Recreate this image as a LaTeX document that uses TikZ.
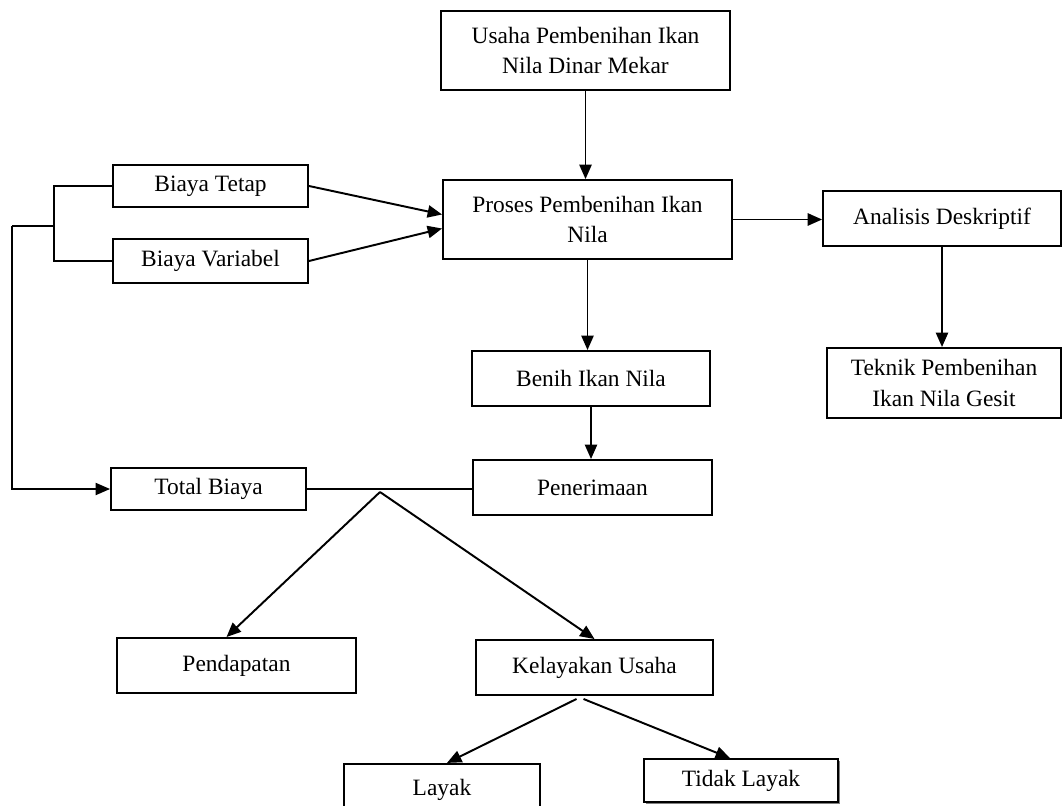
\documentclass[tikz,border=0pt]{standalone}
\usepackage{fontspec}
\setmainfont{Liberation Serif}
\usetikzlibrary{calc}
\usetikzlibrary{arrows.meta}
\usetikzlibrary{shadows}
\tikzset{
  kotak/.style={draw, line width=1pt, fill=white, align=center, inner sep=0pt,
    font=\fontsize{12}{15.4}\selectfont},
  panah/.style={line width=1pt, -{Triangle[length=2.6mm,width=2.2mm]}},
  garis/.style={line width=1pt},
}

\begin{document}
\begin{tikzpicture}[x=0.18mm, y=-0.18mm]
            \clip (0,0) rectangle (1062,805);
            % kotak utama
            \node[kotak, minimum width=52mm, minimum height=14.2mm] (usaha) at (585.5,50.5) {Usaha Pembenihan Ikan\\Nila Dinar Mekar};
            \node[kotak, minimum width=52mm, minimum height=14.2mm] (proses) at (587.5,219.5) {Proses Pembenihan Ikan\\Nila};
            \node[kotak, minimum width=35.1mm, minimum height=7.6mm] (tetap) at (210.5,186) {Biaya Tetap};
            \node[kotak, minimum width=35.1mm, minimum height=7.9mm] (variabel) at (210.5,261) {Biaya Variabel};
            \node[kotak, minimum width=42.8mm, minimum height=9.9mm] (analisis) at (942,218.5) {Analisis Deskriptif};
            \node[kotak, minimum width=42.1mm, minimum height=12.6mm] (teknik) at (944,383) {Teknik Pembenihan\\Ikan Nila Gesit};
            \node[kotak, minimum width=42.8mm, minimum height=9.9mm] (benih) at (591,378.5) {Benih Ikan Nila};
            \node[kotak, minimum width=43mm, minimum height=9.9mm] (terima) at (592.5,487.5) {Penerimaan};
            \node[kotak, minimum width=35.1mm, minimum height=7.6mm] (total) at (208.5,489) {Total Biaya};
            \node[kotak, minimum width=43mm, minimum height=9.9mm] (pendapatan) at (236.5,665.5) {Pendapatan};
            \node[kotak, minimum width=42.7mm, minimum height=9.9mm] (kelayakan) at (594.5,667.5) {Kelayakan Usaha};
            % hasil kelayakan
            \node[kotak, minimum width=35.3mm, minimum height=9.4mm] (layak) at (442,790) {Layak};
            \node[kotak, minimum width=34.9mm, minimum height=7.7mm,
                  drop shadow={shadow xshift=0.4mm, shadow yshift=-0.4mm, fill=gray, opacity=1}] (tidak) at (741,780.5) {Tidak Layak};
            % titik bantu
            \coordinate (brk) at (54,226);
            \coordinate (kiri) at (12,226);
            \coordinate (jn) at (380,492);
            % panah
            \draw[panah] (usaha.south) -- (usaha.south |- proses.north);
            \draw[panah] (tetap.east) -- ($(proses.west)+(0,-5)$);
            \draw[panah] (variabel.east) -- ($(proses.west)+(0,9)$);
            \draw[panah] (proses.east) -- (analisis.west |- proses.east);
            \draw[panah] (analisis.south) -- (analisis.south |- teknik.north);
            \draw[panah] (proses.south) -- (proses.south |- benih.north);
            \draw[panah] (benih.south) -- (benih.south |- terima.north);
            % biaya
            \draw[garis] (tetap.west) -- (tetap.west -| brk) -- (variabel.west -| brk) -- (variabel.west);
            \draw[garis] (brk) -- (kiri);
            \draw[panah, line width=0.7pt] (kiri) |- (total.west);
            \draw[garis] (total.east) -- (total.east -| terima.west);
            \draw[panah] (jn) -- ($(pendapatan.north)+(-10,0)$);
            \draw[panah] (jn) -- (kelayakan.north);
            \draw[panah] ($(kelayakan.south)+(-18,3)$) -- ($(layak.north)+(5,0)$);
            \draw[panah] ($(kelayakan.south)+(-11,3)$) -- ($(tidak.north)+(-11,0)$);
\end{tikzpicture}
\end{document}
